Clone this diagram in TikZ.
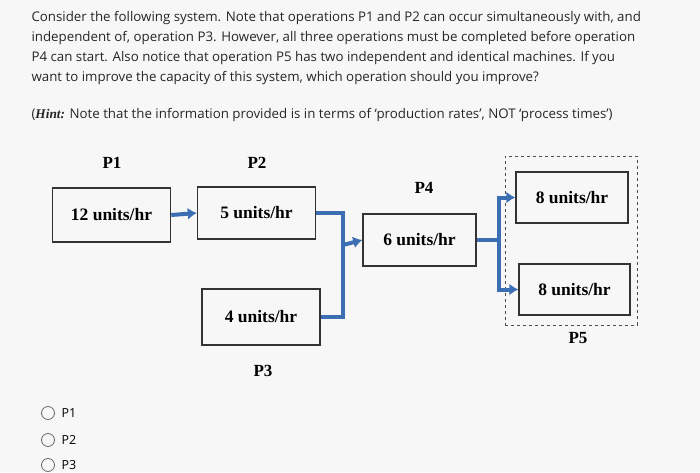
\documentclass[tikz,border=0pt]{standalone}
\usepackage{fontspec}
\usetikzlibrary{arrows.meta}
\setmainfont{Open Sans}
\newfontfamily\tnr{Liberation Serif}
\definecolor{flowblue}{HTML}{3C6EB4}
\begin{document}
\begin{tikzpicture}[x=1pt,y=-1pt,
  proc/.style={draw=black!80,line width=1.5pt,minimum width=#1,inner sep=0pt,font=\tnr\bfseries\fontsize{17.5}{20}\selectfont},
  proc/.default=118pt,
  lab/.style={font=\tnr\bfseries\fontsize{17}{20}\selectfont},
  qtext/.style={anchor=west,font=\fontsize{13.3}{15}\selectfont,text=black!85},
  flow/.style={draw=flowblue,line width=4pt},
  fa/.style={flow,-{Latex[length=9pt,width=12pt]}}]
\useasboundingbox (0,0) rectangle (700,472);
\fill[gray!6] (0,0) rectangle (700,472);
\node[qtext] (t1) at (28,18) {Consider the following system. Note that operations P1 and P2 can occur simultaneously with, and};
\node[qtext] (t2) at (28,38) {independent of, operation P3. However, all three operations must be completed before operation};
\node[qtext] (t3) at (28,58) {P4 can start. Also notice that operation P5 has two independent and identical machines. If you};
\node[qtext] (t4) at (28,78) {want to improve the capacity of this system, which operation should you improve?};
\node[qtext] (t5) at (28,115) {({\tnr\itshape\bfseries Hint:} Note that the information provided is in terms of `production rates', NOT `process times')};

\node[proc,minimum height=54pt] (p1) at (111.5,215) {12 units/hr};
\node[proc,minimum height=52pt] (p2) at (256.5,213) {5 units/hr};
\node[proc,minimum height=56pt] (p3) at (261,317) {4 units/hr};
\node[proc=113pt,minimum height=52pt] (p4) at (419.5,240) {6 units/hr};
\node[proc=112pt,minimum height=51pt] (p5a) at (572,197.5) {8 units/hr};
\node[proc=111pt,minimum height=51pt] (p5b) at (574.5,289.5) {8 units/hr};
\node[draw=black!70,dashed,line width=1pt,minimum width=132pt,minimum height=169pt] (grp) at (571,240.5) {};

\node[lab] (l1) at (112,163) {P1};
\node[lab] (l2) at (257,163) {P2};
\node[lab] (l3) at (263,371) {P3};
\node[lab] (l4) at (424,188) {P4};
\node[lab] (l5) at (578,338) {P5};

\draw[fa] (p1.east) -- (p2.west);
\coordinate (j1) at (343,245);
\draw[flow] (p2.east) -| (j1) |- (p3.east);
\draw[fa] (j1) -- (p4.west);
\coordinate (j2) at (499,240);
\draw[flow] (p4.east) -- (j2);
\draw[fa] (j2) |- (p5a.west);
\draw[fa] (j2) |- (p5b.west);

\foreach \y/\t [count=\i] in {413/P1,440/P2,465/P3}{
  \draw[black!60,line width=0.8pt] (48,\y) circle (6.5pt);
  \node[anchor=west,font=\fontsize{12.5}{14}\selectfont] (o\i) at (58,\y) {\t};
}
\end{tikzpicture}
\end{document}
